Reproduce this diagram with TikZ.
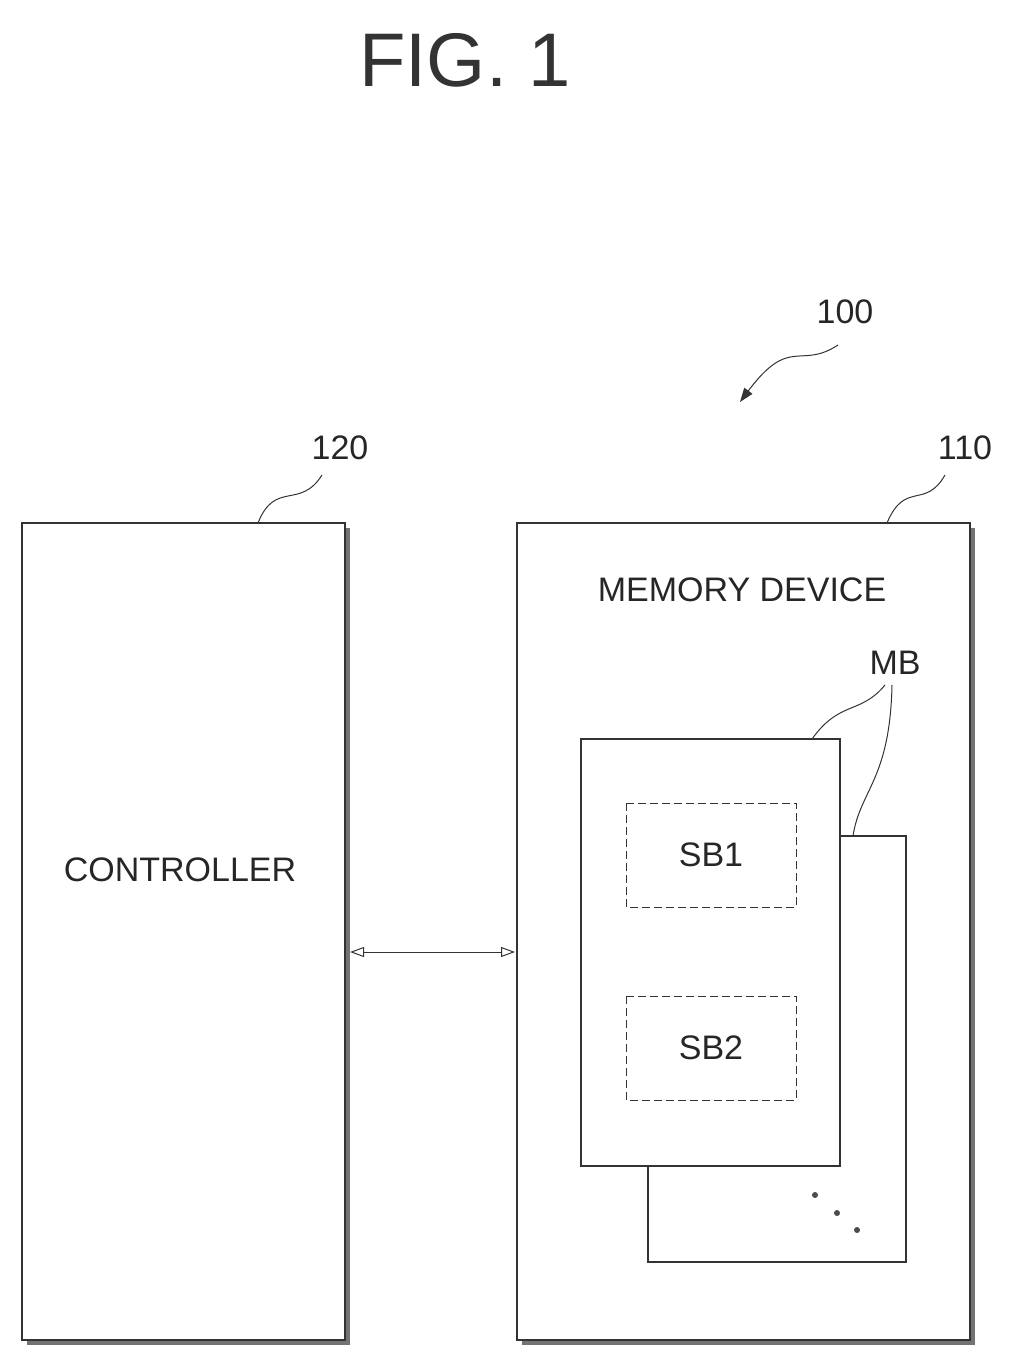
\documentclass[tikz,border=0pt]{standalone}
\usepackage{fontspec}
\setmainfont{Liberation Sans}
\usetikzlibrary{arrows.meta}
\begin{document}
\begin{tikzpicture}[x=0.5pt,y=-0.5pt,
  box/.style={draw=black!80,line width=0.6pt},
  shadow/.style={draw=black!55,line width=2.2pt},
  sb/.style={draw=black!80,dash pattern=on 4pt off 2pt,line width=0.5pt},
  lead/.style={draw=black!80,line width=0.5pt},
  lbl/.style={font=\fontsize{17}{17}\selectfont,text=black!85}]
\useasboundingbox (0,0) rectangle (1021,1370);
\node[font=\fontsize{38}{38}\selectfont,text=black!80] (fig) at (465,60) {FIG. 1};
% controller
\draw[shadow] (348,528) -- (348,1343) -- (27,1343);
\draw[box] (22,523) rectangle (345,1340);
\node[lbl] (ctl) at (180,870) {CONTROLLER};
% memory device
\draw[shadow] (973,528) -- (973,1343) -- (522,1343);
\draw[box] (517,523) rectangle (970,1340);
\node[lbl] (md) at (742,590) {MEMORY DEVICE};
% memory blocks
\draw[box,fill=white] (648,836) rectangle (906,1262);
\draw[box,fill=white] (581,739) rectangle (840,1166);
\draw[sb] (626,803) rectangle (796,907);
\draw[sb] (626,996) rectangle (796,1100);
\node[lbl] (sb1) at (711,855) {SB1};
\node[lbl] (sb2) at (711,1048) {SB2};
\foreach \p in {(815,1195),(837,1213),(857,1230)} \fill[black!70] \p circle (3);
% arrow
\coordinate (a1) at (350,952); \coordinate (a2) at (515,952);
\draw[lead,{Triangle[open,length=7pt,width=5pt]}-{Triangle[open,length=7pt,width=5pt]}] (a1) -- (a2);
% labels
\node[lbl] (l120) at (340,448) {120};
\node[lbl] (l110) at (965,448) {110};
\node[lbl] (l100) at (845,312) {100};
\node[lbl] (lmb) at (895,663) {MB};
\coordinate (c120) at (258,523); \coordinate (c110) at (887,523);
\draw[lead] (c120) .. controls (275,480) and (300,510) .. (322,475);
\draw[lead] (c110) .. controls (905,480) and (925,510) .. (945,475);
\coordinate (e100) at (740,402);
\draw[lead,-{Triangle[length=7pt,width=5pt]}] (838,345) .. controls (800,370) and (790,335) .. (e100);
\coordinate (m1) at (812,739); \coordinate (m2) at (853,836);
\draw[lead] (m1) .. controls (840,700) and (860,715) .. (885,685);
\draw[lead] (m2) .. controls (860,790) and (890,780) .. (892,685);
\end{tikzpicture}
\end{document}
